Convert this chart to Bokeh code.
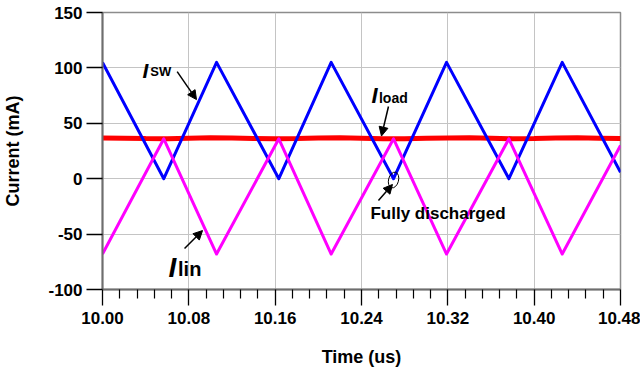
from bokeh.plotting import figure
from bokeh.models import Range1d, FixedTicker, Label, Arrow, NormalHead
from bokeh.embed import file_html
from bokeh.resources import INLINE

# ---- data ----
isw_t = [10.000, 10.0568, 10.1057, 10.1634, 10.2119, 10.2697, 10.3188, 10.3766, 10.4260, 10.480]
isw_v = [105, 0, 105, 0, 105, 0, 105, 0, 105, 5.7]

ilin_t = [10.000, 10.0568, 10.1057, 10.1634, 10.2119, 10.2697, 10.3188, 10.3766, 10.4260, 10.480]
ilin_v = [-68, 36, -68, 36, -68, 36, -68, 36, -68, 30]

iload_t = [10.00, 10.02, 10.04, 10.06, 10.08, 10.10, 10.12, 10.14, 10.16, 10.18, 10.20,
           10.22, 10.24, 10.26, 10.28, 10.30, 10.32, 10.34, 10.36, 10.38, 10.40, 10.42,
           10.44, 10.46, 10.48]
iload_v = [36.8, 36.5, 36.2, 36.0, 36.5, 37.0, 36.8, 36.3, 36.0, 36.2, 36.7,
           36.9, 36.5, 36.1, 36.0, 36.4, 36.8, 36.9, 36.5, 36.1, 36.2, 36.7,
           36.9, 36.6, 36.3]

x_ticks = [10.00, 10.08, 10.16, 10.24, 10.32, 10.40, 10.48]
x_labels = ["10.00", "10.08", "10.16", "10.24", "10.32", "10.40", "10.48"]
y_ticks = [-100, -50, 0, 50, 100, 150]
y_labels = ["-100", "-50", "0", "50", "100", "150"]

FONT = "Liberation Sans"

p = figure(width=640, height=370, output_backend="svg", toolbar_location=None,
           x_range=Range1d(10.0, 10.48), y_range=Range1d(-100, 150),
           min_border_left=102, min_border_right=20, min_border_top=12,
           min_border_bottom=81)
p.background_fill_color = "white"
p.border_fill_color = "white"
p.outline_line_color = "#8c8c8c"
p.outline_line_width = 1.5

minor = []
for a, b in zip(x_ticks[:-1], x_ticks[1:]):
    step = (b - a) / 5
    minor += [a + step * k for k in range(1, 5)]

xa = p.xaxis[0]
xa.ticker = FixedTicker(ticks=x_ticks, minor_ticks=minor)
xa.major_label_overrides = {t: l for t, l in zip(x_ticks, x_labels)}
ya = p.yaxis[0]
ya.ticker = FixedTicker(ticks=y_ticks)
ya.major_label_overrides = {t: l for t, l in zip(y_ticks, y_labels)}

for ax in (xa, ya):
    ax.axis_line_color = "#6e6e6e"
    ax.axis_line_width = 2
    ax.major_tick_line_color = "black"
    ax.major_tick_line_width = 1.3
    ax.major_tick_in = 0
    ax.major_tick_out = 16
    ax.major_label_text_font = FONT
    ax.major_label_text_font_style = "bold"
    ax.major_label_text_font_size = "17px"
    ax.major_label_text_color = "black"
    ax.axis_label_text_font = FONT
    ax.axis_label_text_font_style = "bold"
    ax.axis_label_text_font_size = "18px"
    ax.axis_label_text_color = "black"

xa.minor_tick_line_color = "black"
xa.minor_tick_line_width = 1.2
xa.minor_tick_in = 0
xa.minor_tick_out = 9
xa.major_label_standoff = 6
xa.axis_label = "Time (us)"
xa.axis_label_standoff = 20
ya.minor_tick_line_color = None
ya.major_label_standoff = 4
ya.axis_label = "Current (mA)"
ya.axis_label_standoff = 22

p.grid.grid_line_color = "#c4c4c4"
p.grid.grid_line_width = 1

p.line(iload_t, iload_v, line_color="#ff0000", line_width=5)
p.line(isw_t, isw_v, line_color="#0000ff", line_width=3, line_join="round")
p.line(ilin_t, ilin_v, line_color="#ff00ff", line_width=3, line_join="round")

def lab(x, y, text, size, style):
    p.add_layout(Label(x=x, y=y, text=text, text_font=FONT, text_font_size=size,
                       text_font_style=style, text_color="black",
                       text_align="left", text_baseline="alphabetic"))

def arr(x0, y0, x1, y1):
    p.add_layout(Arrow(x_start=x0, y_start=y0, x_end=x1, y_end=y1,
                       line_color="black", line_width=1.5,
                       end=NormalHead(size=9, fill_color="black", line_color="black")))

lab(10.0370, 97.6, "I", "21px", "bold italic")
lab(10.0443, 96.7, "SW", "13px", "bold")
arr(10.0692, 96.6, 10.0871, 71.4)

lab(10.2493, 75.1, "I", "22px", "bold italic")
lab(10.2562, 72.4, "load", "14px", "bold")
arr(10.2650, 65.2, 10.2585, 38.5)

lab(10.0612, -80.2, "I", "28px", "bold italic")
lab(10.0700, -81.1, "lin", "20px", "bold")
arr(10.076, -63.0, 10.0927, -46.8)

lab(10.2483, -31.4, "Fully discharged", "17px", "bold")
arr(10.2557, -19.7, 10.2687, -5.2)

p.ellipse(x=[10.2697], y=[-1.2], width=10, height=16, width_units="screen",
          height_units="screen", angle=-0.25, fill_color=None,
          line_color="black", line_width=1)

open("out.html", "w").write(file_html(p, INLINE))
